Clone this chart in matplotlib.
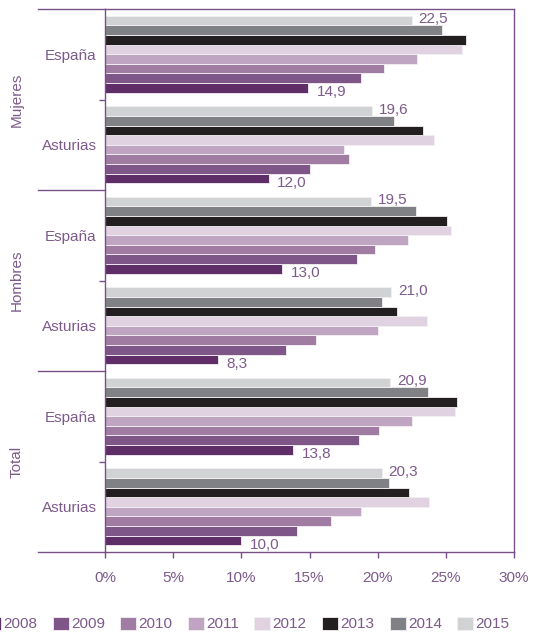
import matplotlib
matplotlib.use('Agg')
import matplotlib.pyplot as plt
import numpy as np

plt.rcParams['font.family'] = ['Liberation Sans', 'DejaVu Sans']

years = ['2008', '2009', '2010', '2011', '2012', '2013', '2014', '2015']
groups = ['Mujeres', 'Hombres', 'Total']
categories = ['España', 'Asturias', 'España', 'Asturias', 'España', 'Asturias']

# values per year, categories ordered top to bottom
v2008 = [14.9, 12.0, 13.0, 8.3, 13.8, 10.0]
v2009 = [18.8, 15.0, 18.5, 13.3, 18.6, 14.1]
v2010 = [20.5, 17.9, 19.8, 15.5, 20.1, 16.6]
v2011 = [22.9, 17.5, 22.2, 20.0, 22.5, 18.8]
v2012 = [26.2, 24.1, 25.4, 23.6, 25.7, 23.8]
v2013 = [26.5, 23.3, 25.1, 21.4, 25.8, 22.3]
v2014 = [24.7, 21.2, 22.8, 20.3, 23.7, 20.8]
v2015 = [22.5, 19.6, 19.5, 21.0, 20.9, 20.3]
series = [v2008, v2009, v2010, v2011, v2012, v2013, v2014, v2015]

colors = ['#5f2d68', '#7f5688', '#a07ca3', '#c0a5c2', '#e0d2e0',
          '#231f20', '#808184', '#d1d2d3']
purple = '#7a4f87'
text_col = '#7d5a8b'

fig = plt.figure(figsize=(5.33, 6.34), dpi=100)
ax = fig.add_axes([105 / 533, 1 - 552 / 634, 409 / 533, 543 / 634])

y = np.arange(len(categories))
h = 0.85 / len(years)
for i, (yr, vals) in enumerate(zip(years, series)):
    ax.barh(y + (3.5 - i) * h, vals, height=h, color=colors[i],
            edgecolor='#f4f0f4', linewidth=0.6, label=yr)

# value labels for first and last year
def fmt(v):
    return f"{v:.1f}".replace('.', ',')

for j in range(len(categories)):
    ax.annotate(fmt(v2015[j]), (v2015[j], y[j] - 3.5 * h), xytext=(5, 1),
                textcoords='offset points', va='center', ha='left',
                fontsize=11, color=text_col)
    ax.annotate(fmt(v2008[j]), (v2008[j], y[j] + 3.5 * h), xytext=(6, -3),
                textcoords='offset points', va='center', ha='left',
                fontsize=11, color=text_col)

ax.set_xlim(0, 30)
ax.set_ylim(len(categories) - 0.5, -0.5)
ax.set_xticks(np.arange(0, 31, 5))
ax.set_xticklabels([f"{t}%" for t in range(0, 31, 5)])
ax.set_yticks(y)
ax.set_yticklabels(categories)
ax.set_yticks([0.5, 2.5, 4.5], minor=True)
ax.tick_params(axis='y', which='major', length=0, pad=6, labelsize=11,
               labelcolor=text_col)
ax.tick_params(axis='y', which='minor', length=4, color=purple, width=1)
ax.tick_params(axis='x', length=4.5, color=purple, width=1, pad=9,
               labelsize=11, labelcolor=text_col)
for s in ax.spines.values():
    s.set_color(purple)
    s.set_linewidth(1)

# group separators and group labels on the left
tr = ax.get_yaxis_transform()
for b in [-0.5, 1.5, 3.5, 5.5]:
    ax.plot([-0.164, 0], [b, b], transform=tr, color=purple, lw=1,
            clip_on=False)
for k, g in enumerate(groups):
    ax.text(-0.215, 2 * k + 0.5, g, transform=tr, rotation=90,
            ha='center', va='center', fontsize=11, color=text_col)

leg = fig.legend(loc='center', bbox_to_anchor=(0.464, 1 - 624 / 634),
                 ncol=8, frameon=False, fontsize=11, handlelength=1.05,
                 handleheight=0.92, handletextpad=0.15, columnspacing=1.0,
                 borderpad=0, borderaxespad=0)
for t in leg.get_texts():
    t.set_color(text_col)

plt.savefig('out.png', dpi=100)
